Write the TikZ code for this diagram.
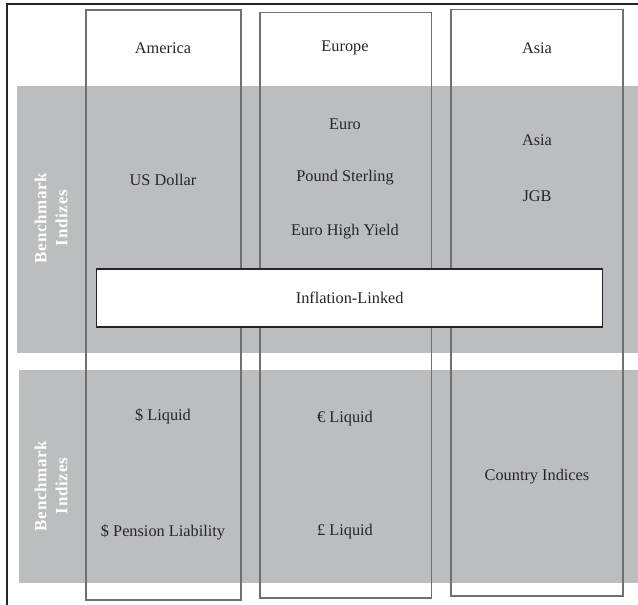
\documentclass[tikz,border=0pt]{standalone}
\usepackage{fontspec}
\setmainfont{Liberation Serif}
\newfontfamily\labelfont[LetterSpace=4]{Liberation Serif}
\begin{document}
\begin{tikzpicture}[x=1pt,y=-1pt,
  band/.style={fill=bandgray,draw=none,inner sep=0pt,outer sep=0pt},
  colbox/.style={draw=colgray,line width=1.2pt,fill=none,inner sep=0pt},
  linkbox/.style={draw=black!85,line width=1.4pt,fill=white,inner sep=0pt},
  txt/.style={font=\fontsize{16.3}{19}\selectfont,text=black!85,inner sep=0pt},
  sidelabel/.style={font=\labelfont\bfseries\fontsize{17}{21}\selectfont,text=white,
    align=center,rotate=90,inner sep=0pt}]
\definecolor{bandgray}{HTML}{BCBDC0}
\definecolor{colgray}{HTML}{707070}
\useasboundingbox (0,0) rectangle (638,605);
% grey bands
\path[band] (17,86) rectangle (638,352.5);
\path[band] (19,370) rectangle (638,582.5);
% outer frame (top and left edges)
\draw[black!85,line width=1.5pt] (7,605) -- (7,4) -- (638,4);
% region columns
\node[colbox,minimum width=155,minimum height=590] (america) at (163.5,305) {};
\node[colbox,minimum width=171.5,minimum height=585.5] (europe) at (345.75,305.25) {};
\node[colbox,minimum width=172,minimum height=586.5] (asia) at (537,302.75) {};
% inflation-linked bar
\node[linkbox,minimum width=506,minimum height=58] (infl) at (349.7,298) {};
\node[txt] (infltxt) at (infl.center) {Inflation-Linked};
% column headers
\node[txt] (hAm) at (163,48) {America};
\node[txt] (hEu) at (345,48) {Europe};
\node[txt] (hAs) at (537,48) {Asia};
% benchmark entries
\node[txt] (usd) at (163,180) {US Dollar};
\node[txt] (euro) at (345,124) {Euro};
\node[txt] (gbp) at (345,178) {Pound Sterling};
\node[txt] (euhy) at (345,232) {Euro High Yield};
\node[txt] (asia1) at (537,140) {Asia};
\node[txt] (jgb) at (537,196) {JGB};
% liquid and other indices
\node[txt] (usliq) at (163,416) {\$ Liquid};
\node[txt] (uspen) at (163,532) {\$ Pension Liability};
\node[txt] (eurliq) at (345,419) {€ Liquid};
\node[txt] (gbpliq) at (345,532) {£ Liquid};
\node[txt] (country) at (537,477) {Country Indices};
% side labels
\node[sidelabel] (side1) at (51,218) {Benchmark\\Indizes};
\node[sidelabel] (side2) at (51,486) {Benchmark\\Indizes};
\end{tikzpicture}
\end{document}
